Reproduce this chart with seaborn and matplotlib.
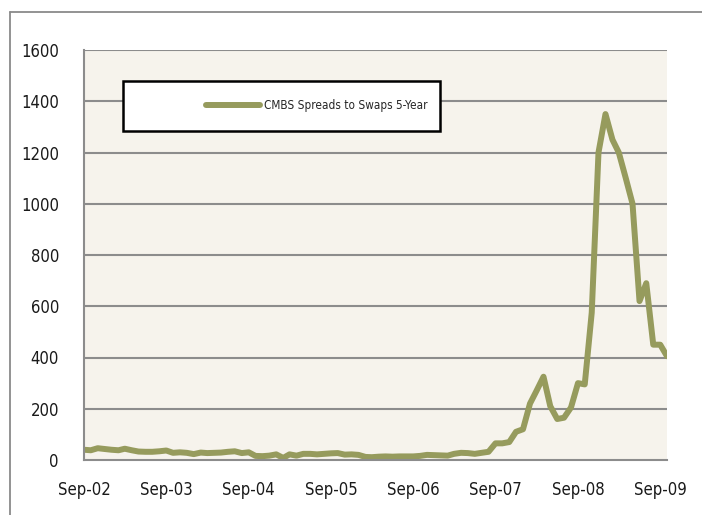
import pandas as pd
import numpy as np
import matplotlib
matplotlib.use('Agg')
import matplotlib.pyplot as plt
import matplotlib.dates as mdates
from matplotlib.patches import Rectangle
from matplotlib.lines import Line2D
import seaborn as sns

# 数据: 每月 CMBS 对掉期利差 (bp), 2002-09 至 2009-10
months = pd.date_range('2002-09-01', periods=86, freq='MS')
spreads = [
    40, 38, 46, 43, 40, 38, 44, 38, 33, 32, 32, 34,      # Sep-02 .. Aug-03
    37, 28, 30, 28, 23, 29, 27, 28, 29, 32, 34, 27,      # Sep-03 .. Aug-04
    30, 16, 15, 17, 22, 8, 22, 17, 24, 24, 22, 24,       # Sep-04 .. Aug-05
    26, 27, 21, 22, 20, 12, 11, 13, 14, 13, 14, 14,      # Sep-05 .. Aug-06
    14, 16, 20, 19, 18, 17, 24, 28, 27, 24, 28, 32,      # Sep-06 .. Aug-07
    65, 65, 70, 110, 120, 220, 270, 325, 210, 160, 165, 205,   # Sep-07 .. Aug-08
    300, 295, 575, 1200, 1350, 1250, 1200, 1100, 1000, 620, 690, 450,  # Sep-08 .. Aug-09
    450, 405,                                             # Sep-09 .. Oct-09
]
series_name = 'CMBS Spreads to Swaps 5-Year'
tick_years = [2002, 2003, 2004, 2005, 2006, 2007, 2008, 2009]
y_ticks = [0, 200, 400, 600, 800, 1000, 1200, 1400, 1600]

df = pd.DataFrame({'date': months, 'spread': spreads, 'series': series_name})

sns.set_theme(style='white')
plt.rcParams['font.family'] = ['DejaVu Sans']
plt.rcParams['font.stretch'] = 'condensed'

line_color = '#969b5d'
grid_color = '#8c8c8c'

fig = plt.figure(figsize=(7.02, 5.15), dpi=100)
fig.patch.set_facecolor('white')
ax = fig.add_axes([84 / 702, 1 - 460 / 515, 583 / 702, 410 / 515])
ax.set_facecolor('#f6f3ec')

sns.lineplot(data=df, x='date', y='spread', hue='series', palette=[line_color],
             linewidth=4.3, ax=ax, legend=True)

ax.set_ylim(0, 1600)
ax.set_yticks(y_ticks)
ax.set_xlim(pd.Timestamp('2002-09-01'), pd.Timestamp('2009-10-01'))
ax.set_xticks([pd.Timestamp(f'{y}-09-01') for y in tick_years])
ax.xaxis.set_major_formatter(mdates.DateFormatter('%b-%y'))
ax.set_xlabel('')
ax.set_ylabel('')

for y in y_ticks[1:]:
    ax.axhline(y, color=grid_color, lw=1.5, zorder=0.5)

for side in ['top', 'right']:
    ax.spines[side].set_visible(False)
for side in ['left', 'bottom']:
    ax.spines[side].set_color(grid_color)
    ax.spines[side].set_linewidth(1.5)

ax.tick_params(axis='both', which='major', direction='out', colors=grid_color,
               labelcolor='#1a1a1a', labelsize=12, width=1.3)
ax.tick_params(axis='y', length=6, pad=12)
ax.tick_params(axis='x', length=7, pad=8)

# 图例框
ax.add_patch(Rectangle((123 / 702, 1 - 131 / 515), 317 / 702, 50 / 515,
                       transform=fig.transFigure, facecolor='white',
                       edgecolor='black', lw=1.8, zorder=5, clip_on=False))
handles, labels = ax.get_legend_handles_labels()
leg = ax.legend(handles, labels, loc='center left',
                bbox_to_anchor=(206 / 702, 1 - 106 / 515),
                bbox_transform=fig.transFigure, frameon=False,
                borderpad=0, borderaxespad=0, handlelength=4.6,
                handletextpad=0.3, fontsize=8.5)
leg.set_zorder(6)
for h in leg.get_lines():
    h.set_linewidth(4.3)

# 外框线
fx = 10 / 702
fy = 1 - 12 / 515
fig.add_artist(Line2D([fx, fx], [0, fy], transform=fig.transFigure,
                      color='#8a8a8a', lw=1.3))
fig.add_artist(Line2D([fx, 1], [fy, fy], transform=fig.transFigure,
                      color='#8a8a8a', lw=1.3))

plt.savefig('out.png', dpi=100)
plt.close()
